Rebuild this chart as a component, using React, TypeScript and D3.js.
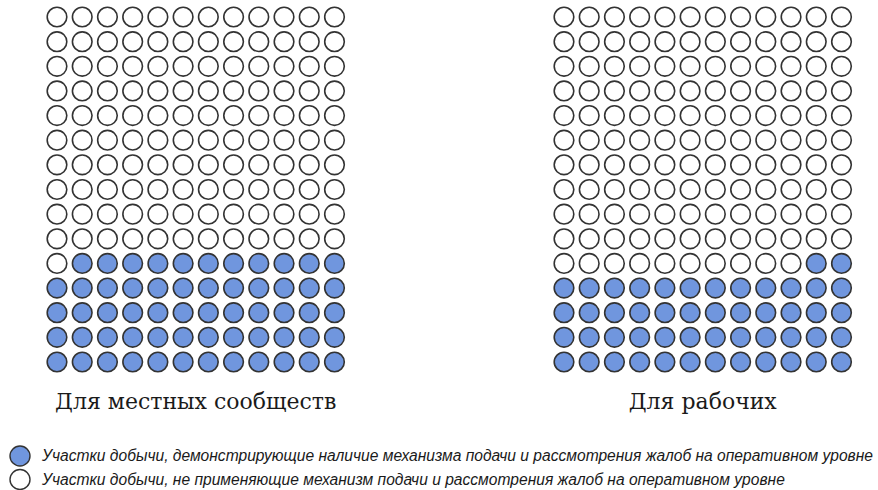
import { useEffect, useRef } from "react";
import * as d3 from "d3";

// each waffle is 12 columns x 15 rows = 180 mining sites
const panels = ["Для местных сообществ", "Для рабочих"];
const filledCounts = [59, 50];
const legendLabels = [
  "Участки добычи, демонстрирующие наличие механизма подачи и рассмотрения жалоб на оперативном уровне",
  "Участки добычи, не применяющие механизм подачи и рассмотрения жалоб на оперативном уровне",
];

const COLS = 12;
const ROWS = 15;
const FILL = "#7096de";
const STROKE = "#333333";

function App() {
  const svgRef = useRef<SVGSVGElement | null>(null);

  useEffect(() => {
    const svg: any = d3.select(svgRef.current);
    svg.selectAll("*").remove();

    const panelX = d3.scalePoint<string>().domain(panels).range([57, 564]);
    const col = d3.scaleLinear().domain([0, COLS - 1]).range([0, 277.5]);
    const row = d3.scaleLinear().domain([0, ROWS - 1]).range([17, 362]);

    panels.forEach((name, p) => {
      const x0: number = panelX(name) as number;
      const n = filledCounts[p];
      const cells = d3.range(COLS * ROWS).map((i) => {
        // fill from bottom-right upward
        const r = ROWS - 1 - Math.floor(i / COLS);
        const c = COLS - 1 - (i % COLS);
        return { r, c, on: i < n };
      });

      const g = svg.append("g").attr("transform", `translate(${x0},0)`);
      g.selectAll("circle")
        .data(cells)
        .enter()
        .append("circle")
        .attr("cx", (d: any) => col(d.c))
        .attr("cy", (d: any) => row(d.r))
        .attr("r", 9.8)
        .attr("fill", (d: any) => (d.on ? FILL : "#ffffff"))
        .attr("stroke", STROKE)
        .attr("stroke-width", 1.6);

      g.append("text")
        .attr("x", col((COLS - 1) / 2))
        .attr("y", 409)
        .attr("text-anchor", "middle")
        .style("font-family", "'DejaVu Serif', serif")
        .style("font-size", "22px")
        .style("fill", "#1a1a1a")
        .text(name);
    });

    const legend = svg
      .selectAll("g.legend")
      .data(legendLabels)
      .enter()
      .append("g")
      .attr("class", "legend")
      .attr("transform", (_: any, i: number) => `translate(0,${456 + i * 23.5})`);

    legend
      .append("circle")
      .attr("cx", 20)
      .attr("cy", 0)
      .attr("r", 10)
      .attr("fill", (_: any, i: number) => (i === 0 ? FILL : "#ffffff"))
      .attr("stroke", STROKE)
      .attr("stroke-width", 1.4);

    legend
      .append("text")
      .attr("x", 42)
      .attr("y", 0)
      .attr("dy", "0.35em")
      .style("font-family", "'Liberation Sans', Arial, sans-serif")
      .style("font-style", "italic")
      .style("font-size", "15.6px")
      .style("fill", "#1a1a1a")
      .text((d: string) => d);
  }, []);

  return (
    <svg
      ref={svgRef}
      width={878}
      height={490}
      style={{ position: "absolute", left: 0, top: 0, background: "#ffffff" }}
    ></svg>
  );
}

export default App;
